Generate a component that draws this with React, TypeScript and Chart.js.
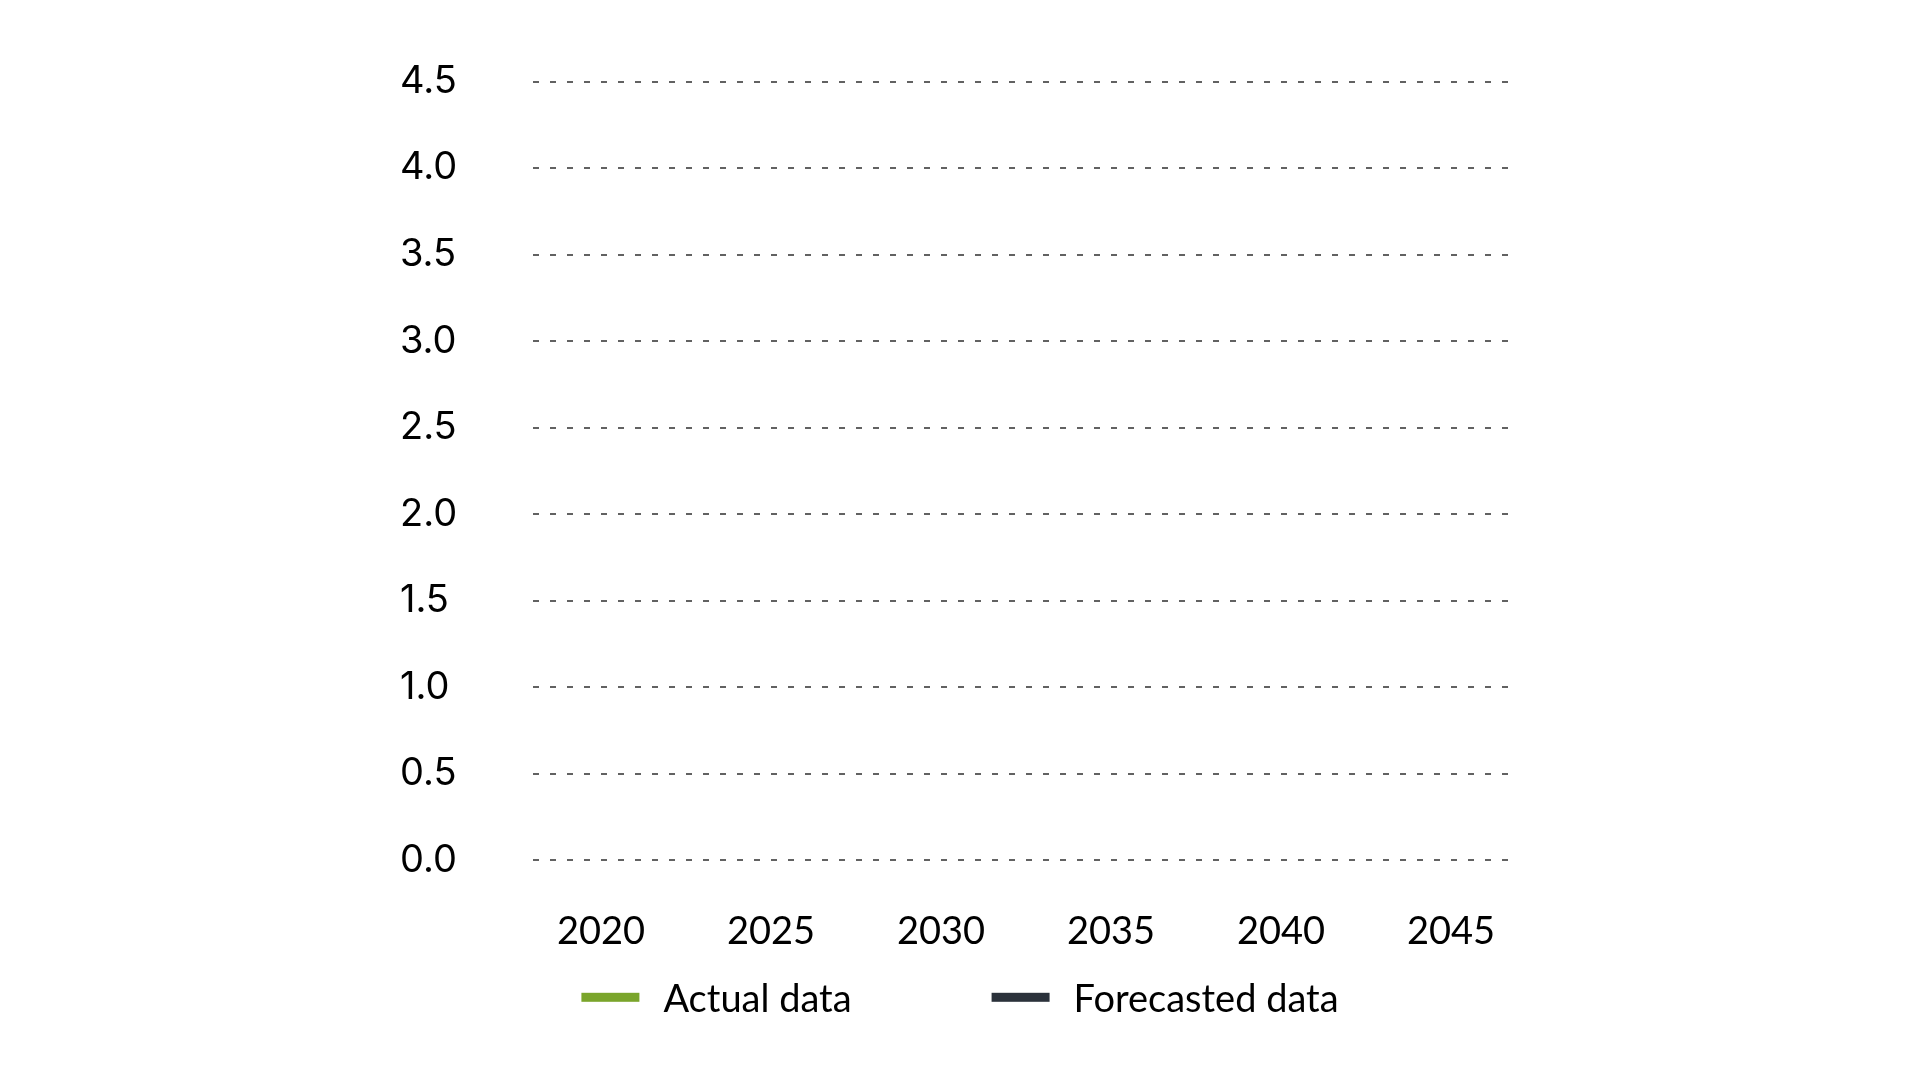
import React, { useRef, useEffect } from 'react';
import { Chart, registerables } from 'chart.js';

Chart.register(...registerables);

// axis ticks
const years = [2020, 2025, 2030, 2035, 2040, 2045];
const yTicks = [0, 0.5, 1, 1.5, 2, 2.5, 3, 3.5, 4, 4.5];

// series (the reference shows no plotted values yet)
const seriesNames = ['Actual data', 'Forecasted data'];
const seriesColors = ['#7aa52b', '#2b323b'];
const actualValues: { x: number; y: number }[] = [];
const forecastValues: { x: number; y: number }[] = [];

// legend drawn as short bars with a wide gap between items
const lineLegend = {
  id: 'lineLegend',
  afterDraw(chart: any) {
    const { ctx, chartArea } = chart;
    const sets = chart.data.datasets;
    ctx.save();
    ctx.font = '38px Lato';
    const swatchW = 58;
    const swatchH = 9;
    const textGap = 24;
    const itemGap = 140;
    const widths = sets.map((ds: any) => swatchW + textGap + ctx.measureText(ds.label).width);
    const total = widths.reduce((a: number, b: number) => a + b, 0) + itemGap * (sets.length - 1);
    let x = chart.width / 2 - total / 2;
    const midY = chartArea.bottom + 137;
    const baseY = chartArea.bottom + 152;
    sets.forEach((ds: any, i: number) => {
      ctx.fillStyle = ds.borderColor;
      ctx.fillRect(x, midY - swatchH / 2, swatchW, swatchH);
      ctx.fillStyle = '#000';
      ctx.textAlign = 'left';
      ctx.textBaseline = 'alphabetic';
      ctx.fillText(ds.label, x + swatchW + textGap, baseY);
      x += widths[i] + itemGap;
    });
    ctx.restore();
  },
};

const ForecastChart: React.FC = () => {
  const chartRef = useRef<HTMLCanvasElement | null>(null);
  const chartInstance = useRef<Chart | null>(null);

  useEffect(() => {
    const myChartRef = chartRef.current?.getContext('2d');
    if (!myChartRef) return;

    chartInstance.current = new Chart(myChartRef, {
      type: 'line',
      data: {
        datasets: [
          {
            label: seriesNames[0],
            data: actualValues,
            borderColor: seriesColors[0],
            backgroundColor: seriesColors[0],
            borderWidth: 4,
            pointRadius: 0,
          },
          {
            label: seriesNames[1],
            data: forecastValues,
            borderColor: seriesColors[1],
            backgroundColor: seriesColors[1],
            borderWidth: 4,
            pointRadius: 0,
          },
        ],
      },
      options: {
        animation: false,
        responsive: true,
        maintainAspectRatio: false,
        layout: {
          padding: { left: 392, right: 393, top: 73.5, bottom: 111.7 },
        },
        plugins: {
          legend: { display: false },
          tooltip: { enabled: false },
        },
        scales: {
          x: {
            type: 'linear',
            min: 2018,
            max: 2047,
            afterBuildTicks: (axis: any) => {
              axis.ticks = years.map((v) => ({ value: v }));
            },
            afterFit: (axis: any) => {
              axis.height = 100;
            },
            grid: { display: false },
            border: { display: false },
            ticks: {
              font: { family: 'Lato', size: 38 },
              color: '#000',
              padding: 41,
              maxRotation: 0,
              callback: (v: any) => String(v),
            },
          },
          y: {
            min: 0,
            max: 4.5,
            afterBuildTicks: (axis: any) => {
              axis.ticks = yTicks.map((v) => ({ value: v }));
            },
            afterFit: (axis: any) => {
              axis.width = 133;
            },
            grid: { color: '#626262', lineWidth: 2, drawTicks: false },
            border: { display: false, dash: [6, 11] },
            ticks: {
              font: { family: 'Inter', size: 38 },
              color: '#000',
              crossAlign: 'far',
              padding: 0,
              callback: (v: any) => Number(v).toFixed(1),
            },
          },
        },
      },
      plugins: [lineLegend],
    });

    return () => {
      if (chartInstance.current) {
        chartInstance.current.destroy();
        chartInstance.current = null;
      }
    };
  }, []);

  return (
    <div style={{ width: '100%', height: '1064px', position: 'relative' }}>
      <canvas ref={chartRef} />
    </div>
  );
};

export default function App() {
  return <ForecastChart />;
}
